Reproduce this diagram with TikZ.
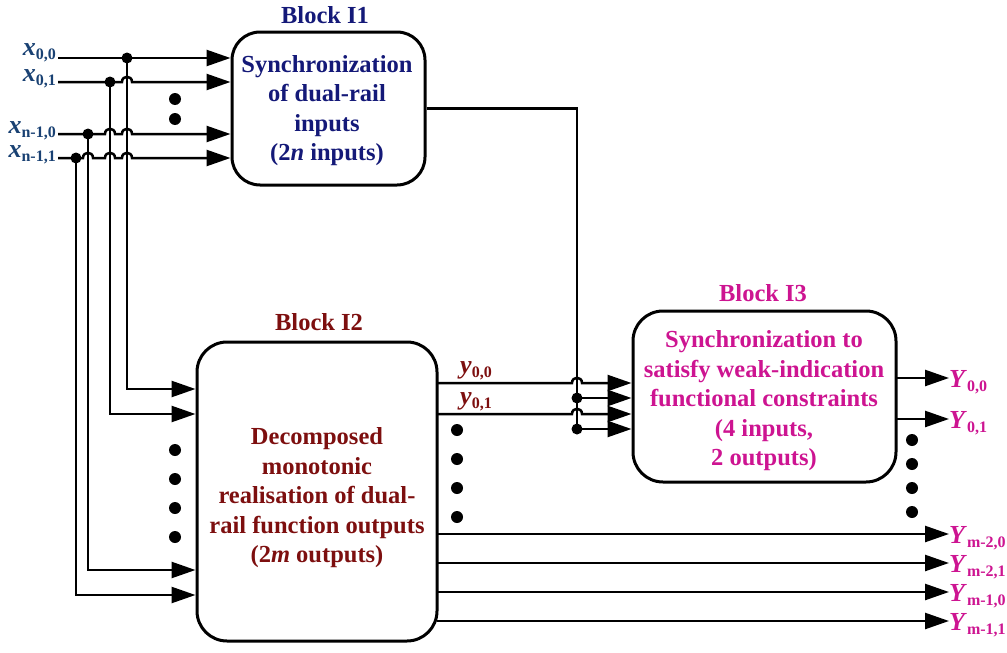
\documentclass[tikz,border=0pt]{standalone}
\usepackage{fontspec}
\setmainfont{Liberation Serif}
\usetikzlibrary{arrows.meta}

\definecolor{inblue}{RGB}{25,65,115}
\definecolor{onenavy}{RGB}{20,25,120}
\definecolor{twored}{RGB}{125,15,15}
\definecolor{threemag}{RGB}{205,20,145}

\newcommand{\sig}[2]{{\fontsize{26}{28}\selectfont\textit{#1}}{\fontsize{16}{16}\selectfont\raisebox{-4pt}{#2}}}
\newcommand{\hop}[2]{-- (#1-5,#2) .. controls (#1-5,#2-7) and (#1+5,#2-7) .. (#1+5,#2)}

\tikzset{
  blk/.style={draw, line width=3pt, rounded corners=28pt, inner sep=0pt},
  bodytxt/.style={align=center, inner sep=0pt, font=\bfseries\fontsize{24.5}{29.5}\selectfont},
  ttl/.style={font=\bfseries\fontsize{24.5}{28}\selectfont, inner sep=0pt},
  lbl/.style={font=\bfseries, inner sep=0pt},
  wire/.style={line width=2.5pt},
  feed/.style={wire, -{Triangle[length=24pt,width=16pt]}},
  jdot/.style={circle, fill, inner sep=0pt, minimum size=11pt},
  edot/.style={circle, fill, inner sep=0pt, minimum size=12pt}
}

\begin{document}
\begin{tikzpicture}[x=1pt, y=-1pt]
  \useasboundingbox (0,0) rectangle (1007,653);

  \node[blk, minimum width=193pt, minimum height=153pt] (I1) at (328.5,108.5) {};
  \node[bodytxt, text=onenavy] (I1txt) at (327,110.5)
    {Synchronization\\of dual-rail\\inputs\\(2\textit{n} inputs)};
  \node[ttl, text=onenavy] (t1) at (325,15) {Block I1};
  \node[blk, rounded corners=30pt, minimum width=240pt, minimum height=299pt] (I2) at (317,491.5) {};
  \node[bodytxt, text=twored] (I2txt) at (317,498)
    {Decomposed\\monotonic\\realisation of dual-\\rail function outputs\\(2\textit{m} outputs)};
  \node[ttl, text=twored] (t2) at (319,322) {Block I2};
  \node[blk, rounded corners=30pt, minimum width=263pt, minimum height=171pt] (I3) at (764.5,396.5) {};
  \node[bodytxt, text=threemag] (I3txt) at (764,401)
    {Synchronization to\\satisfy weak-indication\\functional constraints\\(4 inputs,\\2 outputs)};
  \node[ttl, text=threemag] (t3) at (763,293) {Block I3};

  \node[lbl, text=inblue, anchor=base east] (x00) at (56,55) {\sig{x}{0,0}};
  \node[lbl, text=inblue, anchor=base east] (x01) at (56,81) {\sig{x}{0,1}};
  \node[lbl, text=inblue, anchor=base east] (x10) at (56,133) {\sig{x}{n-1,0}};
  \node[lbl, text=inblue, anchor=base east] (x11) at (56,157) {\sig{x}{n-1,1}};
  \coordinate (r00) at (58,58);
  \coordinate (r01) at (58,82);
  \coordinate (r10) at (58,134);
  \coordinate (r11) at (58,158);
  \draw[feed] (r00) -- (r00 -| I1.west);
  \draw[feed] (r01) \hop{127}{82} -- (r01 -| I1.west);
  \draw[feed] (r10) \hop{110}{134} \hop{127}{134} -- (r10 -| I1.west);
  \draw[feed] (r11) \hop{88}{158} \hop{110}{158} \hop{127}{158} -- (r11 -| I1.west);
  \node[edot] (ea1) at (175,99) {};
  \node[edot] (ea2) at (175,119) {};

  \node[jdot] (d00) at (127,58) {};
  \node[jdot] (d01) at (110,82) {};
  \node[jdot] (d10) at (88,134) {};
  \node[jdot] (d11) at (76,158) {};
  \coordinate (k00) at (127,389);
  \coordinate (k01) at (110,414);
  \coordinate (k10) at (88,570);
  \coordinate (k11) at (76,595);
  \draw[feed] (d00.center) -- (k00) -- (k00 -| I2.west);
  \draw[feed] (d01.center) -- (k01) -- (k01 -| I2.west);
  \draw[feed] (d10.center) -- (k10) -- (k10 -| I2.west);
  \draw[feed] (d11.center) -- (k11) -- (k11 -| I2.west);
  \node[edot] (eb1) at (175,450) {};
  \node[edot] (eb2) at (175,479) {};
  \node[edot] (eb3) at (175,508) {};
  \node[edot] (eb4) at (175,537) {};

  \coordinate (c1) at (577,108.5);
  \coordinate (c2) at (577,429);
  \draw[feed] (I1.east) -- (c1) -- (c2) -- (c2 -| I3.west);
  \node[jdot] (b1) at (577,398) {};
  \node[jdot] (b2) at (c2) {};
  \draw[feed] (b1.center) -- (b1 -| I3.west);

  \coordinate (o00) at (437,383);
  \coordinate (o01) at (437,414);
  \draw[feed] (o00) \hop{577}{383} -- (o00 -| I3.west);
  \draw[feed] (o01) \hop{577}{414} -- (o01 -| I3.west);
  \node[lbl, text=twored, anchor=base west] (y00) at (460,373) {\sig{y}{0,0}};
  \node[lbl, text=twored, anchor=base west] (y01) at (460,404) {\sig{y}{0,1}};
  \node[edot] (ec1) at (457,430) {};
  \node[edot] (ec2) at (457,459) {};
  \node[edot] (ec3) at (457,488) {};
  \node[edot] (ec4) at (457,517) {};

  \node[lbl, text=threemag, anchor=base west] (Y00) at (949,387) {\sig{Y}{0,0}};
  \node[lbl, text=threemag, anchor=base west] (Y01) at (949,428) {\sig{Y}{0,1}};
  \coordinate (u00) at (896,378);
  \coordinate (u01) at (896,419);
  \draw[feed] (u00) -- (u00 -| Y00.west);
  \draw[feed] (u01) -- (u01 -| Y01.west);
  \node[edot] (ed1) at (912,440) {};
  \node[edot] (ed2) at (912,464) {};
  \node[edot] (ed3) at (912,488) {};
  \node[edot] (ed4) at (912,512) {};

  \node[lbl, text=threemag, anchor=base west] (Y20) at (949,543) {\sig{Y}{m-2,0}};
  \node[lbl, text=threemag, anchor=base west] (Y21) at (949,572) {\sig{Y}{m-2,1}};
  \node[lbl, text=threemag, anchor=base west] (Y10) at (949,601) {\sig{Y}{m-1,0}};
  \node[lbl, text=threemag, anchor=base west] (Y11) at (949,630) {\sig{Y}{m-1,1}};
  \coordinate (v20) at (437,534);
  \coordinate (v21) at (437,563);
  \coordinate (v10) at (437,592);
  \coordinate (v11) at (437,621);
  \draw[feed] (v20) -- (v20 -| Y20.west);
  \draw[feed] (v21) -- (v21 -| Y21.west);
  \draw[feed] (v10) -- (v10 -| Y10.west);
  \draw[feed] (v11) -- (v11 -| Y11.west);
\end{tikzpicture}
\end{document}
